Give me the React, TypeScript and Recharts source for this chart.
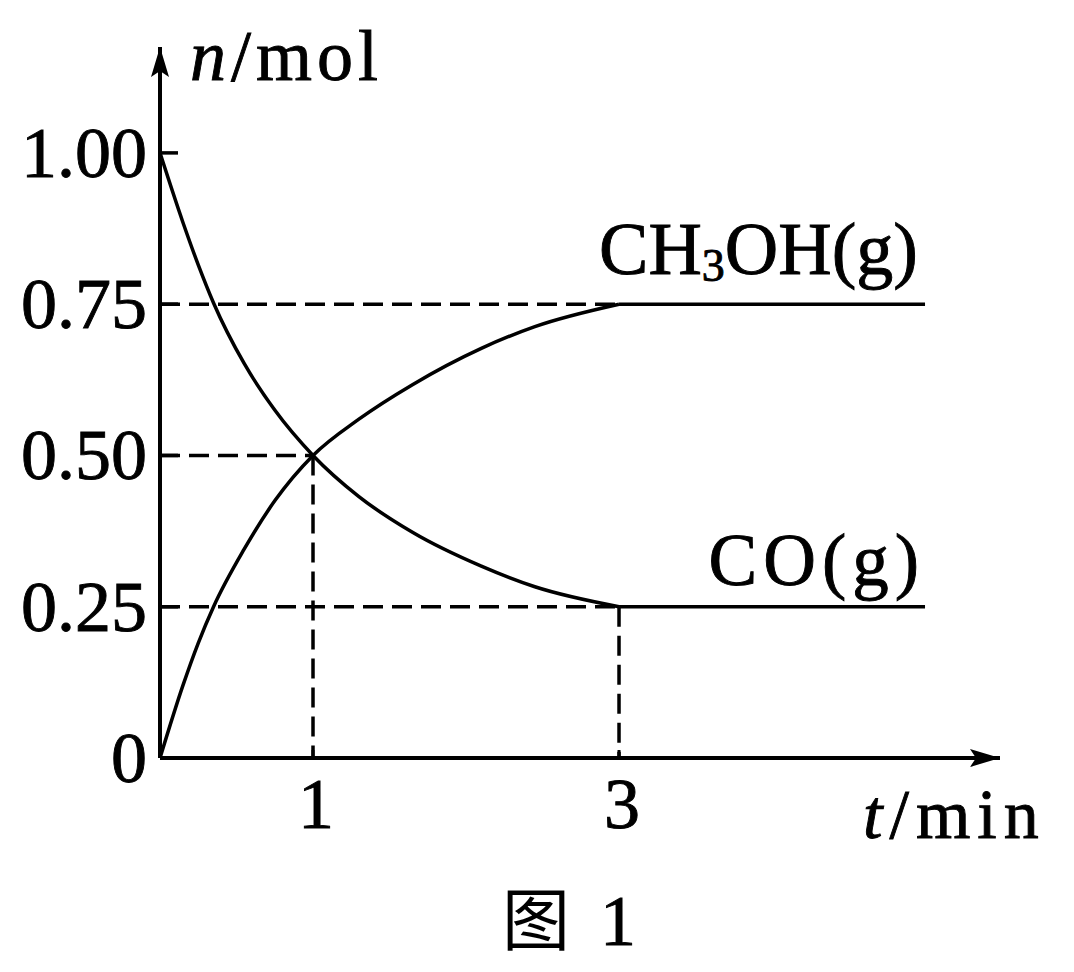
import React from 'react';
import { LineChart, Line, XAxis, YAxis, ReferenceLine, ReferenceDot } from 'recharts';

// time (min) sample points along the curved part
const curveTime = [0, 0.15, 0.25, 0.35, 0.55, 0.75, 1, 1.3, 1.65, 2.1, 2.45, 3];
const coCurve = [1.0, 0.885, 0.815, 0.752, 0.652, 0.575, 0.5, 0.432, 0.373, 0.317, 0.283, 0.25];
const ch3ohCurve = [0, 0.12, 0.19, 0.25, 0.345, 0.425, 0.5, 0.56, 0.617, 0.677, 0.713, 0.75];

// equilibrium plateau
const plateauTime = [3, 5];
const coPlateau = [0.25, 0.25];
const ch3ohPlateau = [0.75, 0.75];

// axis ticks
const yTicks = [0, 0.25, 0.5, 0.75, 1];
const yTickLabels = ['0', '0.25', '0.50', '0.75', '1.00'];
const xTicks = [1, 3];
const xTickLabels = ['1', '3'];

// dashed guide lines
const guideT = [1, 3, 3];
const guideN = [0.5, 0.25, 0.75];
const guideVertical = [true, true, false];

const yMax = 1.175;
const xMax = 5.49;

const SERIF = "'Liberation Serif', 'DejaVu Serif', 'Times New Roman', serif";
const CJK = "'Noto Sans CJK SC', 'Noto Sans CJK JP', sans-serif";
const TEXT_STROKE = 0.9;

const curveData = curveTime.map((t, i) => ({ t, co: coCurve[i], ch3oh: ch3ohCurve[i] }));
const plateauData = plateauTime.map((t, i) => ({ t, co: coPlateau[i], ch3oh: ch3ohPlateau[i] }));

const textProps = { fontFamily: SERIF, fill: '#000', stroke: '#000', strokeWidth: TEXT_STROKE };

const YTick = (props: any) => {
  const { x, y, payload } = props;
  const idx = yTicks.indexOf(payload.value);
  return (
    <g>
      {payload.value !== 0 && (
        <line x1={x} x2={x + 18} y1={y} y2={y} stroke="#000" strokeWidth={3.5} />
      )}
      <text x={x - 13} y={y + 24} textAnchor="end" fontSize={72} {...textProps}>
        {yTickLabels[idx]}
      </text>
    </g>
  );
};

const XTick = (props: any) => {
  const { x, y, payload } = props;
  const idx = xTicks.indexOf(payload.value);
  return (
    <g>
      <line x1={x} x2={x} y1={y} y2={y - 8} stroke="#000" strokeWidth={3} />
      <text x={x + 3} y={y + 70} textAnchor="middle" fontSize={72} {...textProps}>
        {xTickLabels[idx]}
      </text>
    </g>
  );
};

const YArrow = (props: any) => {
  const { cx, cy } = props;
  return (
    <g>
      <path d={`M${cx},${cy} L${cx - 9},${cy + 30} L${cx},${cy + 24} L${cx + 9},${cy + 30} Z`} fill="#000" />
      <text x={cx + 30} y={cy + 33} fontSize={72} letterSpacing={5} {...textProps}>
        <tspan fontStyle="italic">n</tspan>
        <tspan>/mol</tspan>
      </text>
    </g>
  );
};

const XArrow = (props: any) => {
  const { cx, cy } = props;
  return (
    <g>
      <path d={`M${cx},${cy} L${cx - 30},${cy - 9} L${cx - 24},${cy} L${cx - 30},${cy + 9} Z`} fill="#000" />
      <text x={cx - 137} y={cy + 80} fontSize={70} letterSpacing={7} {...textProps}>
        <tspan fontStyle="italic">t</tspan>
        <tspan>/min</tspan>
      </text>
    </g>
  );
};

const Ch3ohLabel = (props: any) => {
  const { cx, cy } = props;
  return (
    <text x={cx - 7} y={cy - 30} textAnchor="end" fontSize={74} {...textProps}>
      <tspan>CH</tspan>
      <tspan fontSize={46} dy={7}>3</tspan>
      <tspan dy={-7}>OH(g)</tspan>
    </text>
  );
};

const CoLabel = (props: any) => {
  const { cx, cy } = props;
  return (
    <text x={cx} y={cy - 22} textAnchor="end" fontSize={73} letterSpacing={6} {...textProps}>
      CO(g)
    </text>
  );
};

const Caption = (props: any) => {
  const { cx, cy } = props;
  return (
    <g>
      <text x={cx + 342} y={cy + 187} fontFamily={CJK} fontSize={68} fill="#000">图</text>
      <text x={cx + 458} y={cy + 187} textAnchor="middle" fontSize={72} {...textProps}>1</text>
    </g>
  );
};

export default function App() {
  return (
    <div style={{ width: 1066, height: 964, background: '#fff' }}>
      <LineChart width={1066} height={964} margin={{ top: 39, right: 74, left: 0, bottom: 0 }}>
        <XAxis
          type="number"
          dataKey="t"
          domain={[0, xMax]}
          allowDataOverflow
          ticks={xTicks}
          interval={0}
          height={214}
          tickSize={0}
          tickMargin={0}
          tickLine={false}
          axisLine={{ stroke: '#000', strokeWidth: 4 }}
          tick={<XTick />}
        />
        <YAxis
          type="number"
          domain={[0, yMax]}
          allowDataOverflow
          ticks={yTicks}
          interval={0}
          width={152}
          tickSize={0}
          tickMargin={0}
          tickLine={false}
          axisLine={{ stroke: '#000', strokeWidth: 4 }}
          tick={<YTick />}
        />
        {guideT.map((t, i) => (
          <ReferenceLine
            key={`h${i}`}
            segment={[{ x: 0, y: guideN[i] }, { x: t, y: guideN[i] }]}
            stroke="#000"
            strokeWidth={3.5}
            strokeDasharray="20 9"
            ifOverflow="visible"
          />
        ))}
        {guideT.map((t, i) =>
          guideVertical[i] ? (
            <ReferenceLine
              key={`v${i}`}
              segment={[{ x: t, y: guideN[i] }, { x: t, y: 0 }]}
              stroke="#000"
              strokeWidth={3.5}
              strokeDasharray="20 9"
              ifOverflow="visible"
            />
          ) : null
        )}
        <Line data={curveData} dataKey="co" type="monotone" stroke="#000" strokeWidth={3.5} dot={false} activeDot={false} isAnimationActive={false} />
        <Line data={curveData} dataKey="ch3oh" type="monotone" stroke="#000" strokeWidth={3.5} dot={false} activeDot={false} isAnimationActive={false} />
        <Line data={plateauData} dataKey="co" type="linear" stroke="#000" strokeWidth={3.5} dot={false} activeDot={false} isAnimationActive={false} />
        <Line data={plateauData} dataKey="ch3oh" type="linear" stroke="#000" strokeWidth={3.5} dot={false} activeDot={false} isAnimationActive={false} />
        <ReferenceDot x={0} y={yMax} r={0} ifOverflow="visible" shape={<YArrow />} />
        <ReferenceDot x={xMax} y={0} r={0} ifOverflow="visible" shape={<XArrow />} />
        <ReferenceDot x={plateauTime[1]} y={ch3ohPlateau[1]} r={0} ifOverflow="visible" shape={<Ch3ohLabel />} />
        <ReferenceDot x={plateauTime[1]} y={coPlateau[1]} r={0} ifOverflow="visible" shape={<CoLabel />} />
        <ReferenceDot x={0} y={0} r={0} ifOverflow="visible" shape={<Caption />} />
      </LineChart>
    </div>
  );
}
